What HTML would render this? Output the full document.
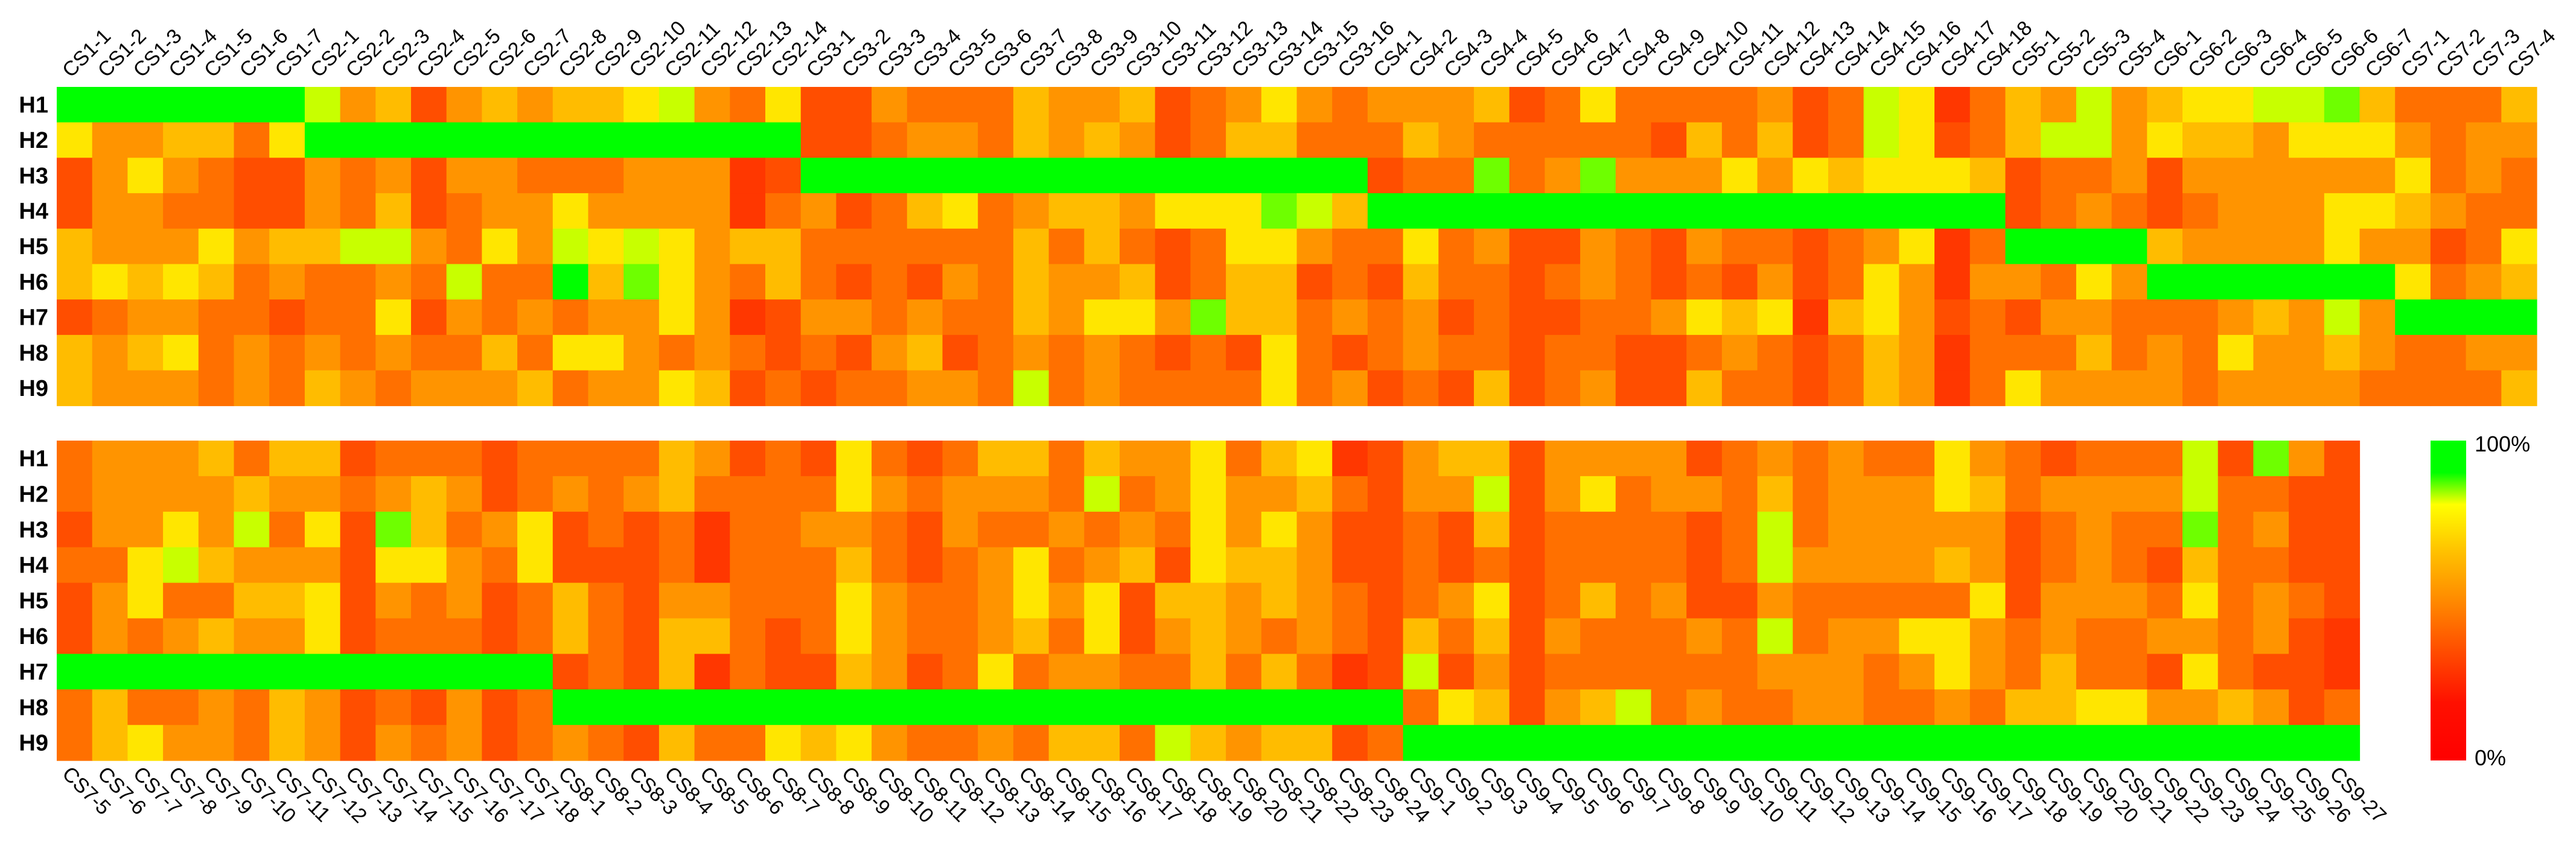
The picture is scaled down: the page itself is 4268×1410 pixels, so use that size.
<!DOCTYPE html>
<html><head><meta charset="utf-8"><style>
html,body{margin:0;padding:0;background:#fff;}
svg{display:block;font-family:"Liberation Sans",sans-serif;}
</style></head><body>
<svg id="chart" width="4268" height="1410" viewBox="0 0 4268 1410" xmlns="http://www.w3.org/2000/svg">
<defs><linearGradient id="cbar" x1="0" y1="0" x2="0" y2="1">
<stop offset="0" stop-color="#00ff00"/><stop offset="0.1" stop-color="#00ff00"/><stop offset="0.2" stop-color="#ffff00"/><stop offset="0.35" stop-color="#ffc000"/><stop offset="0.5" stop-color="#ff8a00"/><stop offset="0.65" stop-color="#ff5000"/><stop offset="0.82" stop-color="#ff1000"/><stop offset="1" stop-color="#ff0000"/></linearGradient></defs>
<g id="top-panel"></g>
<g id="bottom-panel"></g>
<g>
<rect x="4027" y="730" width="59" height="530" fill="url(#cbar)"/>
<text x="4100" y="748" font-size="36">100%</text>
<text x="4100" y="1268" font-size="36">0%</text>
</g>
</svg>
<script>
const rowLabels = ["H1","H2","H3","H4","H5","H6","H7","H8","H9"];
const topGroups = [[1,7],[2,14],[3,16],[4,18],[5,4],[6,7],[7,4]];
const botGroups = [[7,14,5],[8,24,1],[9,27,1]];
// values in percent
const topH1 = [100,100,100,100,100,100,100,80,50,60,30,50,60,50,60,60,70,80,50,40,70,30,30,50,40,40,40,60,50,50,60,30,40,50,70,50,40,50,50,50,60,30,40,70,40,40,40,40,50,30,40,80,70,20,40,60,50,80,50,60,70,70,80,80,90,60,40,40,40,60];
const topH2 = [70,50,50,60,60,40,70,100,100,100,100,100,100,100,100,100,100,100,100,100,100,30,30,40,50,50,40,60,50,60,50,30,40,60,60,40,40,40,60,50,40,40,40,40,40,30,60,40,60,30,40,80,70,30,40,60,80,80,50,70,60,60,50,70,70,70,50,40,50,50];
const topH3 = [30,50,70,50,40,30,30,50,40,50,30,50,50,40,40,40,50,50,50,20,30,100,100,100,100,100,100,100,100,100,100,100,100,100,100,100,100,30,40,40,90,40,50,90,50,50,50,70,50,70,60,70,70,70,60,30,40,40,50,30,50,50,50,50,50,50,70,40,50,40];
const topH4 = [30,50,50,40,40,30,30,50,40,60,30,40,50,50,70,50,50,50,50,20,40,50,30,40,60,70,40,50,60,60,50,70,70,70,90,80,60,100,100,100,100,100,100,100,100,100,100,100,100,100,100,100,100,100,100,30,40,50,40,30,40,50,50,50,70,70,60,50,40,40];
const topH5 = [60,50,50,50,70,50,60,60,80,80,50,40,70,50,80,70,80,70,50,60,60,40,40,40,40,40,40,60,40,60,40,30,40,70,70,50,40,40,70,40,50,30,30,50,40,30,50,40,40,30,40,50,70,20,40,100,100,100,100,60,50,50,50,50,70,50,50,30,40,70];
const topH6 = [60,70,60,70,60,40,50,40,40,50,40,80,40,40,100,60,90,70,50,40,60,40,30,40,30,50,40,60,50,50,60,30,40,60,60,30,40,30,60,40,40,30,40,50,40,30,40,30,50,30,40,70,50,20,50,50,40,70,50,100,100,100,100,100,100,100,70,40,50,60];
const topH7 = [30,40,50,50,40,40,30,40,40,70,30,50,40,50,40,50,50,70,50,20,30,50,50,40,50,40,40,60,50,70,70,50,90,60,60,40,50,40,50,30,40,30,30,40,40,50,70,60,70,20,60,70,50,30,40,30,50,50,40,40,40,50,60,50,80,50,100,100,100,100];
const topH8 = [60,50,60,70,40,50,40,50,40,50,40,40,60,40,70,70,50,40,50,40,30,40,30,50,60,30,40,50,40,50,40,30,40,30,70,40,30,40,50,40,40,30,40,40,30,30,40,50,40,30,40,60,50,20,40,40,40,60,40,50,40,70,50,50,60,50,40,40,50,50];
const topH9 = [60,50,50,50,40,50,40,60,50,40,50,50,50,60,40,50,50,70,60,30,40,30,40,40,50,50,40,80,40,50,40,40,40,40,70,40,50,30,40,30,60,30,40,50,30,30,60,40,40,30,40,60,50,20,40,70,50,50,50,50,40,50,50,50,50,40,40,40,40,60];
const botH1 = [40,50,50,50,60,40,60,60,30,40,40,40,30,40,40,40,40,60,50,30,40,30,70,40,30,40,60,60,40,60,50,50,70,40,60,70,20,30,50,60,60,30,50,50,50,50,30,40,50,40,50,40,40,70,50,40,30,40,40,40,80,30,90,50,30];
const botH2 = [40,50,50,50,50,60,50,50,40,50,60,50,30,40,50,40,50,60,40,40,40,40,70,50,40,50,50,50,40,80,40,50,70,50,50,60,40,30,50,50,80,30,50,70,40,50,50,40,60,40,50,50,50,70,60,40,50,50,50,50,80,40,40,30,30];
const botH3 = [30,50,50,70,50,80,40,70,30,90,60,40,50,70,30,40,30,40,20,40,40,50,50,40,30,50,40,40,50,40,50,40,70,50,70,50,30,30,40,30,60,30,40,40,40,40,30,40,80,40,50,50,50,50,50,30,40,50,40,40,90,40,50,30,30];
const botH4 = [40,40,70,80,60,50,50,50,30,70,70,50,40,70,30,30,30,40,20,40,40,40,60,40,30,40,50,70,40,50,60,30,70,60,60,50,30,30,40,30,40,30,40,40,40,40,30,40,80,50,50,50,50,60,50,30,40,50,40,30,60,40,40,30,30];
const botH5 = [30,50,70,40,40,60,60,70,30,50,40,50,30,40,60,40,30,50,50,40,40,40,70,50,40,40,50,70,50,70,30,60,60,50,60,50,40,30,40,50,70,30,40,60,40,50,30,30,50,40,40,40,40,40,70,30,50,50,50,40,70,40,50,40,30];
const botH6 = [30,50,40,50,60,50,50,70,30,40,40,40,30,40,60,40,30,60,60,40,30,40,70,50,40,40,50,60,40,70,30,50,60,50,40,50,40,30,60,40,60,30,50,40,40,40,50,40,80,40,50,50,70,70,50,40,50,40,40,50,50,40,50,30,20];
const botH7 = [100,100,100,100,100,100,100,100,100,100,100,100,100,100,30,40,30,60,20,40,30,30,60,50,30,40,70,40,50,50,40,40,60,40,60,40,20,30,80,30,50,30,40,40,40,40,40,40,50,50,50,40,50,70,50,40,60,40,40,30,70,40,30,30,20];
const botH8 = [40,60,40,40,50,40,60,50,30,40,30,50,30,40,100,100,100,100,100,100,100,100,100,100,100,100,100,100,100,100,100,100,100,100,100,100,100,100,40,70,60,30,50,60,80,40,50,40,40,50,50,40,40,50,40,60,60,70,70,50,50,60,50,30,40];
const botH9 = [40,60,70,50,50,40,60,50,30,50,40,50,30,40,50,40,30,60,40,40,70,60,70,50,40,40,50,40,60,60,40,80,60,50,60,60,30,40,100,100,100,100,100,100,100,100,100,100,100,100,100,100,100,100,100,100,100,100,100,100,100,100,100,100,100];
const topRows = [topH1,topH2,topH3,topH4,topH5,topH6,topH7,topH8,topH9];
const botRows = [botH1,botH2,botH3,botH4,botH5,botH6,botH7,botH8,botH9];

const stops = [[0,[255,0,0]],[20,[255,55,0]],[30,[255,78,0]],[40,[255,112,0]],[50,[255,148,0]],[60,[255,188,0]],[70,[255,230,0]],[80,[200,255,0]],[90,[110,255,0]],[95,[0,255,0]],[100,[0,255,0]]];
function color(v){
  for(let i=1;i<stops.length;i++){
    if(v<=stops[i][0]){const a=stops[i-1],b=stops[i];const t=(v-a[0])/(b[0]-a[0]);
      const c=a[1].map((x,k)=>Math.round(x+(b[1][k]-x)*t));return `rgb(${c[0]},${c[1]},${c[2]})`;}
  }
  return 'rgb(0,255,0)';
}
const NS='http://www.w3.org/2000/svg';
const X0=94, CW=58.7;
function xScale(i){return X0+i*CW;}
function mk(tag,attrs,parent){const e=document.createElementNS(NS,tag);for(const k in attrs)e.setAttribute(k,attrs[k]);parent.appendChild(e);return e;}

const topLabels=[];topGroups.forEach(g=>{for(let i=1;i<=g[1];i++)topLabels.push(`CS${g[0]}-${i}`);});
const botLabels=[];botGroups.forEach(g=>{for(let i=0;i<g[1];i++)botLabels.push(`CS${g[0]}-${g[2]+i}`);});

function panel(gid,rows,labels,y0,rh,top){
  const g=document.getElementById(gid);
  rows.forEach((row,r)=>{
    row.forEach((v,c)=>{
      const rc=mk('rect',{x:xScale(c).toFixed(2),y:(y0+r*rh).toFixed(2),width:(CW+0.6).toFixed(2),height:(rh+0.6).toFixed(2),fill:color(v)},g);
      
      
    });
    const t=mk('text',{x:80,y:(y0+r*rh+rh/2+13).toFixed(1),'font-size':38,'font-weight':'bold','text-anchor':'end'},g);
    t.textContent=rowLabels[r];
    
    
  });
  labels.forEach((lab,c)=>{
    const cx=xScale(c)+CW/2;
    let t;
    if(top){
      t=mk('text',{x:0,y:0,'font-size':34,transform:`translate(${(cx-6).toFixed(1)},130) rotate(-45)`},g);
    }else{
      t=mk('text',{x:0,y:0,'font-size':34,transform:`translate(${(cx-22).toFixed(1)},1284) rotate(45)`},g);
    }
    t.textContent=lab;
    
    
  });
}
panel('top-panel',topRows,topLabels,144,58.7,true);
panel('bottom-panel',botRows,botLabels,730,58.9,false);
</script>
</body></html>
